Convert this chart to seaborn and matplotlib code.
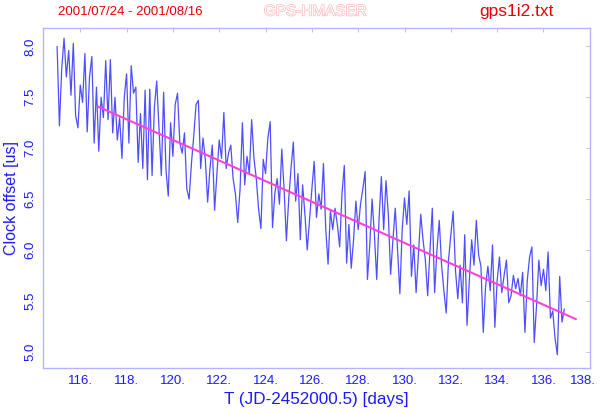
import numpy as np
import pandas as pd
import matplotlib
matplotlib.use("Agg")
import matplotlib.pyplot as plt
import matplotlib.patheffects as pe
import matplotlib.transforms as mtransforms
import seaborn as sns

# Clock offset samples, every 0.1 day from T=115.0
t_start = 115.0
t_step = 0.1
offset_us = [
    8.00, 7.22, 7.78, 8.08, 7.70, 7.96, 7.52, 8.03, 7.32, 7.20,
    7.62, 7.45, 7.93, 7.16, 7.70, 7.90, 7.05, 7.60, 6.97, 7.50,
    7.30, 7.86, 7.28, 7.87, 7.15, 7.50, 7.08, 7.30, 6.90, 7.50,
    7.73, 7.05, 7.81, 7.54, 7.60, 6.86, 7.34, 6.80, 7.57, 6.69,
    7.58, 6.73, 7.40, 7.66, 7.20, 6.73, 7.55, 6.79, 6.53, 7.25,
    6.92, 7.43, 7.54, 7.05, 6.95, 7.15, 6.60, 6.50, 6.85, 7.12,
    7.43, 7.47, 6.80, 7.10, 6.89, 6.47, 6.80, 7.03, 6.39, 6.75,
    7.08, 6.90, 7.35, 6.80, 6.95, 7.03, 6.70, 6.55, 6.27, 6.60,
    7.25, 6.64, 6.92, 6.75, 7.28, 6.90, 6.70, 6.40, 6.21, 6.89,
    6.75, 7.10, 7.26, 6.22, 6.55, 6.70, 6.45, 6.99, 6.60, 6.09,
    6.50, 6.80, 7.06, 6.48, 6.75, 6.10, 6.64, 6.35, 6.00, 6.30,
    6.60, 6.87, 6.32, 6.55, 6.40, 6.85, 6.20, 5.86, 6.38, 6.20,
    6.41, 6.25, 6.03, 6.55, 6.83, 5.87, 6.25, 5.82, 6.10, 6.48,
    6.20, 6.45, 6.60, 6.77, 5.71, 6.05, 6.50, 6.15, 5.71, 6.30,
    6.72, 6.20, 6.68, 6.35, 5.76, 6.10, 6.41, 6.00, 5.57, 6.20,
    6.51, 6.25, 6.58, 5.74, 6.05, 5.58, 5.95, 6.35, 6.10, 5.90,
    5.55, 6.00, 6.41, 5.58, 6.00, 6.29, 5.85, 5.60, 5.38, 5.90,
    6.15, 6.38, 5.80, 5.52, 5.85, 5.48, 6.15, 5.26, 5.70, 6.10,
    5.85, 6.29, 5.95, 5.84, 5.19, 5.64, 5.84, 5.60, 6.05, 5.24,
    5.70, 5.93, 5.58, 5.75, 5.90, 5.48, 5.55, 5.75, 5.62, 5.72,
    5.55, 5.78, 5.19, 5.70, 5.93, 6.03, 5.09, 5.45, 5.90, 5.65,
    5.81, 5.60, 5.98, 5.33, 5.40, 5.13, 4.97, 5.74, 5.29, 5.42,
]

# Linear fit end points
fit_t = [116.75, 137.4]
fit_y = [7.41, 5.32]

x_ticks = [116, 118, 120, 122, 124, 126, 128, 130, 132, 134, 136, 138]
y_ticks = [5.0, 5.5, 6.0, 6.5, 7.0, 7.5, 8.0]

t = t_start + t_step * np.arange(len(offset_us))
df = pd.DataFrame({"T": t, "offset": offset_us})
fit = pd.DataFrame({"T": fit_t, "offset": fit_y})

sns.set_theme(style="white")
plt.rcParams["font.family"] = ["Liberation Sans", "DejaVu Sans"]

frame_col = "#b4b4ff"
label_col = "#1a1aff"

fig = plt.figure(figsize=(6, 4.13), dpi=100)
ax = fig.add_axes([0.072, 0.109, 0.911, 0.823])

sns.lineplot(data=df, x="T", y="offset", ax=ax, color="#2f2fff",
             linewidth=0.9, alpha=0.85)
sns.lineplot(data=fit, x="T", y="offset", ax=ax, color="#ff40e0",
             linewidth=1.5)

ax.set_xlim(114.4, 138.0)
ax.set_ylim(4.84, 8.18)
ax.set_xticks(x_ticks)
ax.set_xticklabels([f"{v}." for v in x_ticks], color=label_col, fontsize=9.5)
ax.set_yticks(y_ticks)
ax.set_yticklabels([f"{v:.1f}" for v in y_ticks], color=label_col,
                   fontsize=9.5, rotation=90, va="center")
ax.tick_params(direction="in", length=3, width=0.6, color=frame_col,
               top=True, right=True, pad=5)
for s in ax.spines.values():
    s.set_color(frame_col)
    s.set_linewidth(1.0)

# keep the last x tick label inside the figure
last = ax.get_xticklabels()[-1]
last.set_transform(last.get_transform() +
                   mtransforms.ScaledTranslation(-0.07, 0, fig.dpi_scale_trans))

ax.set_xlabel("T (JD-2452000.5) [days]", color=label_col, fontsize=12.3)
ax.set_ylabel("Clock offset [us]", color=label_col, fontsize=11.5)
ax.yaxis.set_label_coords(-0.044, 0.5)

fig.text(0.217, 0.972, "2001/07/24 - 2001/08/16", color="#e80000",
         fontsize=9.5, ha="center", va="center")
fig.text(0.525, 0.972, "GPS-HMASER", color="white", fontsize=11,
         ha="center", va="center",
         path_effects=[pe.withStroke(linewidth=0.9, foreground="#ffb0b0")])
fig.text(0.86, 0.972, "gps1i2.txt", color="#e80000", fontsize=12.5,
         ha="center", va="center")

fig.savefig("out.png", dpi=100)
plt.close()
